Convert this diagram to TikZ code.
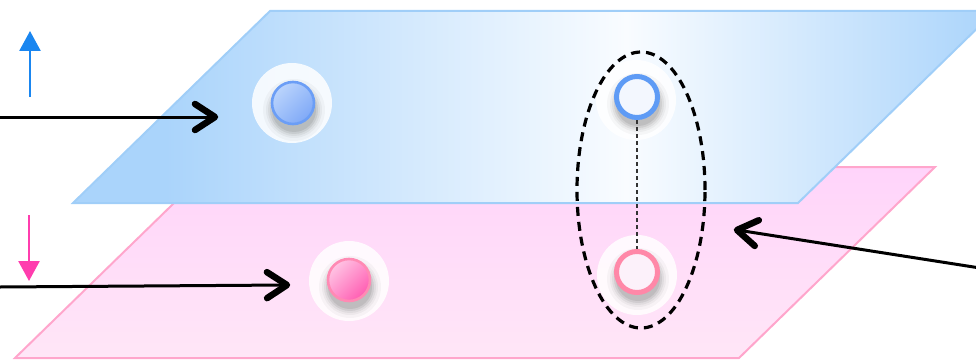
\documentclass[tikz,border=0pt]{standalone}
\usetikzlibrary{arrows.meta,shapes.geometric,calc}
\definecolor{planeblue}{HTML}{AAD4FB}
\definecolor{planewhite}{HTML}{F9FCFF}
\definecolor{planeblueedge}{HTML}{A0CEF8}
\definecolor{pinktop}{HTML}{FFD4FA}
\definecolor{pinkbot}{HTML}{FFE6F7}
\definecolor{pinkedge}{HTML}{FFA6CC}
\definecolor{upblue}{HTML}{1A86F0}
\definecolor{downpink}{HTML}{FF3DAE}
\definecolor{ringblue}{HTML}{5E9BF5}
\definecolor{ringpink}{HTML}{FF88A8}
\definecolor{ringinB}{HTML}{F3F7FE}
\definecolor{ringinP}{HTML}{FCF1FA}
\definecolor{dotblueA}{HTML}{BBD4FC}
\definecolor{dotblueB}{HTML}{7FA9F7}
\definecolor{dotblueE}{HTML}{6B9EF6}
\definecolor{dotpinkA}{HTML}{FFC4E4}
\definecolor{dotpinkB}{HTML}{FF5DB2}
\definecolor{dotpinkE}{HTML}{FF8AB4}
\pgfdeclarehorizontalshading{blueplane}{100bp}{color(0bp)=(planeblue); color(25bp)=(planeblue); color(30bp)=(planeblue); color(55bp)=(planewhite); color(75bp)=(planeblue); color(100bp)=(planeblue)}
\tikzset{
  halo/.style={circle, fill=white, fill opacity=0.85, minimum size=80pt, inner sep=0pt, draw=none},
  dot/.style={circle, minimum size=42pt, inner sep=0pt, line width=2.6pt},
  ring/.style={circle, minimum size=41pt, inner sep=0pt, line width=5pt},
  pointer/.style={line width=3pt},
  pointerhead/.style={line width=6.5pt, line cap=round, line join=round},
  dirarrow/.style={line width=2.6pt, -{Triangle[length=20pt, width=21pt]}},
  group/.style={ellipse, draw, dash pattern=on 9pt off 6pt, line width=3.2pt, minimum width=128pt, minimum height=276pt, inner sep=0pt},
}
\begin{document}
\begin{tikzpicture}[x=1pt,y=-1pt]
\useasboundingbox (0,0) rectangle (976,361);
\clip (0,0) rectangle (976,361);
% pink plane
\path[top color=pinktop, bottom color=pinkbot, draw=pinkedge, line width=2pt]
  (211,167) -- (935,167) -- (739,358) -- (15,358) -- cycle;
% blue plane
\path[shading=blueplane, draw=planeblueedge, line width=2pt]
  (270,11) -- (995,11) -- (798,203) -- (73,203) -- cycle;
% halos
\node[halo] (bh) at (292,103) {};
\node[halo] (ph) at (349,281) {};
\node[halo] (rbh) at (636,100) {};
\node[halo] (rph) at (637,275) {};
% shadows
\foreach \cx/\cy in {293/103, 349/280, 637/97, 637/272}{
  \foreach \r/\o in {31/0.03, 28/0.04, 26/0.05, 24/0.07, 22/0.08}{
    \fill[black, opacity=\o] (\cx+1,\cy+7) circle[radius=\r pt];
  }
}
% solid dots
\node[dot, draw=dotblueE, left color=dotblueA, right color=dotblueB, shading angle=45] (bd) at (293,103) {};
\node[dot, draw=dotpinkE, left color=dotpinkA, right color=dotpinkB, shading angle=45] (pd) at (349,280) {};
% rings
\node[ring, draw=ringblue, fill=ringinB] (rb) at (637,97) {};
\node[ring, draw=ringpink, fill=ringinP] (rp) at (637,272) {};
\draw[line width=2.4pt, black!80, dash pattern=on 4pt off 3pt] (rb.south) -- (rp.north);
\node[group] (grp) at (641,190) {};
% direction arrows
\coordinate (upS) at (30,97);
\coordinate (upE) at (30,31);
\coordinate (dnS) at (29,215);
\coordinate (dnE) at (29,281);
\draw[dirarrow, upblue] (upS) -- (upE);
\draw[dirarrow, downpink] (dnS) -- (dnE);
% pointers
\coordinate (p1s) at (0,117);
\coordinate (p1e) at (215,117);
\coordinate (p2s) at (0,287);
\coordinate (p2e) at (287,285);
\coordinate (p3s) at (980,268);
\coordinate (p3e) at (737,230);
\foreach \s/\e in {p1s/p1e, p2s/p2e, p3s/p3e}{
  \draw[pointer] (\s) -- (\e);
  \coordinate (hb) at ($(\e)!20pt!(\s)$);
  \draw[pointerhead] ($(hb)!13pt!90:(\e)$) -- (\e) -- ($(hb)!13pt!-90:(\e)$);
}
\end{tikzpicture}
\end{document}
